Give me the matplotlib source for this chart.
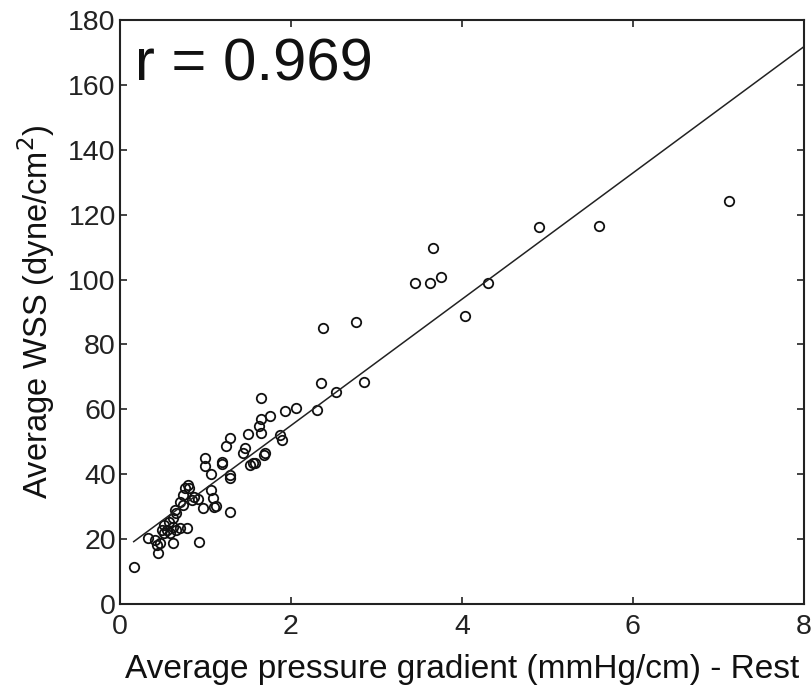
import matplotlib
matplotlib.use("Agg")
import matplotlib.pyplot as plt
import numpy as np

# Data
pressure_gradient = [
    0.16, 0.33, 0.41, 0.43, 0.45, 0.47, 0.49, 0.51, 0.51, 0.55, 0.57, 0.58, 0.62, 0.62,
    0.62, 0.64, 0.66, 0.66, 0.70, 0.70, 0.74, 0.74, 0.76, 0.78, 0.80, 0.81, 0.84, 0.86,
    0.91, 0.92, 0.97, 0.99, 0.99, 1.07, 1.07, 1.09, 1.10, 1.12, 1.19, 1.19, 1.24, 1.29,
    1.29, 1.29, 1.29, 1.44, 1.46, 1.50, 1.52, 1.55, 1.58, 1.63, 1.65, 1.65, 1.65, 1.68,
    1.70, 1.76, 1.87, 1.89, 1.93, 2.06, 2.31, 2.35, 2.37, 2.53, 2.76, 2.85, 3.45, 3.63,
    3.66, 3.76, 4.04, 4.31, 4.90, 5.60, 7.12,
]
wss = [
    11.3, 20.3, 19.7, 18.2, 15.8, 18.7, 22.8, 24.4, 21.8, 22.8, 25.4, 21.8, 26.4, 23.8,
    18.7, 29.0, 28.0, 22.8, 23.3, 31.5, 33.6, 30.5, 35.7, 23.5, 36.7, 35.7, 32.1, 33.1,
    32.5, 19.2, 29.5, 44.9, 42.5, 40.2, 35.1, 32.6, 30.0, 30.2, 43.9, 43.0, 48.8, 51.3,
    39.8, 38.8, 28.3, 46.5, 48.0, 52.3, 42.8, 43.4, 43.4, 54.9, 63.6, 52.8, 56.9, 45.9,
    46.5, 58.0, 52.1, 50.6, 59.5, 60.3, 59.8, 68.0, 85.2, 65.4, 87.0, 68.5, 99.0, 99.0,
    109.6, 100.7, 88.8, 98.9, 116.1, 116.5, 124.2,
]
fit_intercept = 16.1
fit_slope = 19.46
fit_x_range = [0.16, 8.0]
r_text = "r = 0.969"

x_ticks = [0, 2, 4, 6, 8]
y_ticks = [0, 20, 40, 60, 80, 100, 120, 140, 160, 180]

fig = plt.figure(figsize=(8.12, 6.98), dpi=100)
ax = fig.add_axes([0.1478, 0.1347, 0.8422, 0.8366])

tick_font = ["Liberation Sans Narrow", "Liberation Sans", "DejaVu Sans"]
text_font = ["Liberation Sans", "DejaVu Sans"]

ax.plot(pressure_gradient, wss, linestyle="none", marker="o", markersize=6.8,
        markerfacecolor="none", markeredgecolor="#111111", markeredgewidth=1.3)

xl = np.array(fit_x_range)
ax.plot(xl, fit_intercept + fit_slope * xl, color="#222222", linewidth=1.1)

ax.set_xlim(0, 8)
ax.set_ylim(0, 180)
ax.set_xticks(x_ticks)
ax.set_yticks(y_ticks)
ax.set_xticklabels([str(t) for t in x_ticks], fontfamily=tick_font, fontsize=20.5)
ax.set_yticklabels([str(t) for t in y_ticks], fontfamily=tick_font, fontsize=20.5)
ax.tick_params(direction="in", length=5, width=1.2, top=True, right=True,
               colors="#222222", pad=3)
ax.tick_params(axis="x", pad=7)
for s in ax.spines.values():
    s.set_linewidth(1.5)
    s.set_color("#222222")

ax.set_xlabel("Average pressure gradient (mmHg/cm) - Rest", fontfamily=text_font,
              fontsize=24, labelpad=10, color="#111111")
ax.set_ylabel("Average WSS (dyne/cm$^2$)", fontfamily=text_font, fontsize=23.5,
              labelpad=8, color="#111111")

ax.text(0.17, 166, r_text, fontfamily=text_font, fontsize=43, va="center",
        ha="left", color="#111111")

fig.savefig("out.png", dpi=100)
